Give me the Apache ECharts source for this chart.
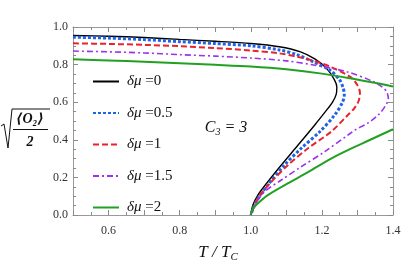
<!DOCTYPE html>
<html>
<head>
<meta charset="utf-8">
<script src="https://cdn.jsdelivr.net/npm/echarts@6/dist/echarts.min.js"></script>
<style>html,body{margin:0;padding:0;background:#fff}#c{width:415px;height:277px}</style>
</head>
<body>
<div id="c"></div>
<script>
// Data (T/Tc, sqrt(<O2>/2))
var legendNames = ['δμ =0', 'δμ =0.5', 'δμ =1', 'δμ =1.5', 'δμ =2'];
var xTicks = [0.6, 0.8, 1.0, 1.2, 1.4];
var yTicks = [0.0, 0.2, 0.4, 0.6, 0.8, 1.0];
var dmu0 = [[0.5,0.955],[0.6,0.951],[0.7,0.944],[0.8,0.934],[0.9,0.924],[1.0,0.912],[1.08,0.895],[1.14,0.868],[1.18,0.83],[1.213,0.78],[1.235,0.72],[1.242,0.68],[1.24,0.64],[1.23,0.60],[1.217,0.567],[1.18,0.479],[1.133,0.372],[1.086,0.266],[1.048,0.177],[1.02,0.106],[1.006,0.053],[1.0,0]];
var dmu05 = [[0.5,0.946],[0.6,0.941],[0.7,0.933],[0.8,0.922],[0.9,0.912],[1.0,0.90],[1.08,0.878],[1.13,0.853],[1.176,0.814],[1.222,0.771],[1.25,0.718],[1.26,0.675],[1.263,0.64],[1.258,0.60],[1.236,0.532],[1.194,0.443],[1.142,0.355],[1.095,0.266],[1.048,0.16],[1.015,0.071],[1.0,0]];
var dmu1 = [[0.5,0.913],[0.6,0.91],[0.7,0.905],[0.8,0.898],[0.9,0.888],[1.0,0.875],[1.08,0.86],[1.13,0.842],[1.18,0.818],[1.223,0.789],[1.279,0.736],[1.30,0.69],[1.307,0.65],[1.303,0.605],[1.29,0.565],[1.273,0.532],[1.226,0.443],[1.161,0.355],[1.105,0.266],[1.058,0.177],[1.02,0.089],[1.0,0]];
var dmu15 = [[0.5,0.872],[0.6,0.868],[0.7,0.862],[0.8,0.853],[0.9,0.845],[1.0,0.835],[1.1,0.82],[1.176,0.798],[1.27,0.762],[1.345,0.709],[1.37,0.68],[1.382,0.656],[1.387,0.62],[1.38,0.585],[1.36,0.535],[1.33,0.49],[1.293,0.452],[1.273,0.425],[1.208,0.337],[1.142,0.257],[1.086,0.186],[1.039,0.124],[1.011,0.053],[1.0,0]];
var dmu2Upper = [[0.5,0.828],[0.6,0.822],[0.7,0.815],[0.8,0.807],[0.9,0.799],[1.0,0.79],[1.1,0.775],[1.2,0.752],[1.28,0.727],[1.36,0.699],[1.4,0.684]];
var dmu2Lower = [[1.0,0],[1.004,0.025],[1.015,0.053],[1.048,0.106],[1.105,0.169],[1.161,0.228],[1.226,0.30],[1.273,0.345],[1.33,0.395],[1.4,0.456]];

var serif = '"Liberation Serif","DejaVu Serif",serif';
var colors = ['#000000', '#2163e6', '#e8232b', '#9a33f0', '#22a022'];
var tickColor = '#8a8a8a';

function mk(name, data, color, width, type) {
  return {
    name: name, type: 'line', data: data, smooth: 0.3,
    showSymbol: false, symbol: 'none', clip: true,
    lineStyle: {color: color, width: width, type: type},
    itemStyle: {color: color},
    emphasis: {disabled: true}, animation: false
  };
}

function fmtX(v) {
  for (var i = 0; i < xTicks.length; i++) if (Math.abs(v - xTicks[i]) < 1e-6) return xTicks[i].toFixed(1);
  return '';
}
function fmtY(v) {
  for (var i = 0; i < yTicks.length; i++) if (Math.abs(v - yTicks[i]) < 1e-6) return yTicks[i].toFixed(1);
  return '';
}

var axisCommon = {
  type: 'value',
  axisLine: {show: true, onZero: false, lineStyle: {color: '#999', width: 1}},
  axisTick: {show: true, inside: true, length: 5, lineStyle: {color: tickColor}},
  minorTick: {show: true, splitNumber: 2, length: 3, lineStyle: {color: tickColor}},
  splitLine: {show: false}
};

var chart = echarts.init(document.getElementById('c'), null, {renderer: 'canvas'});
chart.setOption({
  animation: false,
  backgroundColor: '#fff',
  grid: {left: 73, right: 22, top: 27, bottom: 62},
  xAxis: [
    Object.assign({}, axisCommon, {position: 'bottom', min: 0.5, max: 1.4, interval: 0.1,
      axisLabel: {formatter: fmtX, margin: 10, color: '#333', fontFamily: serif, fontSize: 12, showMinLabel: true, showMaxLabel: true}}),
    Object.assign({}, axisCommon, {position: 'top', min: 0.5, max: 1.4, interval: 0.1, axisLabel: {show: false}})
  ],
  yAxis: [
    Object.assign({}, axisCommon, {position: 'left', min: 0, max: 1, interval: 0.2,
      minorTick: {show: true, splitNumber: 4, length: 3, lineStyle: {color: tickColor}},
      axisLabel: {formatter: fmtY, margin: 5, color: '#333', fontFamily: serif, fontSize: 12}}),
    Object.assign({}, axisCommon, {position: 'right', min: 0, max: 1, interval: 0.2,
      minorTick: {show: true, splitNumber: 4, length: 3, lineStyle: {color: tickColor}},
      axisLabel: {show: false}})
  ],
  legend: {
    data: legendNames, orient: 'vertical', left: 87, top: 69,
    itemWidth: 26, itemHeight: 14, itemGap: 16.5,
    selectedMode: false,
    itemStyle: {opacity: 0, borderWidth: 0},
    formatter: function (n) { return '{g|δμ}{t| ' + n.split(' ')[1] + '}'; },
    textStyle: {
      color: '#111', fontFamily: serif, fontSize: 15, padding: [0, 0, 0, 3],
      rich: {g: {fontStyle: 'italic', fontFamily: serif, fontSize: 15, color: '#111'},
             t: {fontFamily: serif, fontSize: 15, color: '#111'}}
    }
  },
  series: [
    mk(legendNames[0], dmu0, colors[0], 1.4, 'solid'),
    mk(legendNames[1], dmu05, colors[1], 3, [3, 2]),
    mk(legendNames[2], dmu1, colors[2], 2, [6, 3]),
    mk(legendNames[3], dmu15, colors[3], 1.6, [6, 3, 2, 3]),
    mk(legendNames[4], dmu2Upper, colors[4], 2, 'solid'),
    mk(legendNames[4], dmu2Lower, colors[4], 2, 'solid')
  ],
  graphic: [
    {type: 'polyline', shape: {points: [[1, 126], [4, 124], [8, 148], [12, 109], [50, 109]]},
     style: {stroke: '#111', lineWidth: 1, fill: null}},
    {type: 'text', x: 30, y: 119, style: {text: '⟨O₂⟩', font: 'italic bold 14px ' + serif, fill: '#111', align: 'center', verticalAlign: 'middle'}},
    {type: 'line', shape: {x1: 13, y1: 129.5, x2: 48, y2: 129.5}, style: {stroke: '#111', lineWidth: 1.2}},
    {type: 'text', x: 30, y: 142, style: {text: '2', font: 'italic bold 14px ' + serif, fill: '#111', align: 'center', verticalAlign: 'middle'}},
    {type: 'text', x: 218, y: 253, style: {
      text: '{a|T / T}{s|C}', align: 'center', verticalAlign: 'middle',
      rich: {a: {fontFamily: serif, fontStyle: 'italic', fontSize: 17, fill: '#111'},
             s: {fontFamily: serif, fontStyle: 'italic', fontSize: 11, fill: '#111', padding: [8, 0, 0, 0]}}}},
    {type: 'text', x: 226, y: 128, style: {
      text: '{a|C}{s|3}{a| = 3}', align: 'center', verticalAlign: 'middle',
      rich: {a: {fontFamily: serif, fontStyle: 'italic', fontSize: 16, fill: '#111'},
             s: {fontFamily: serif, fontStyle: 'italic', fontSize: 10, fill: '#111', padding: [8, 0, 0, 0]}}}}
  ]
});
</script>
</body>
</html>
